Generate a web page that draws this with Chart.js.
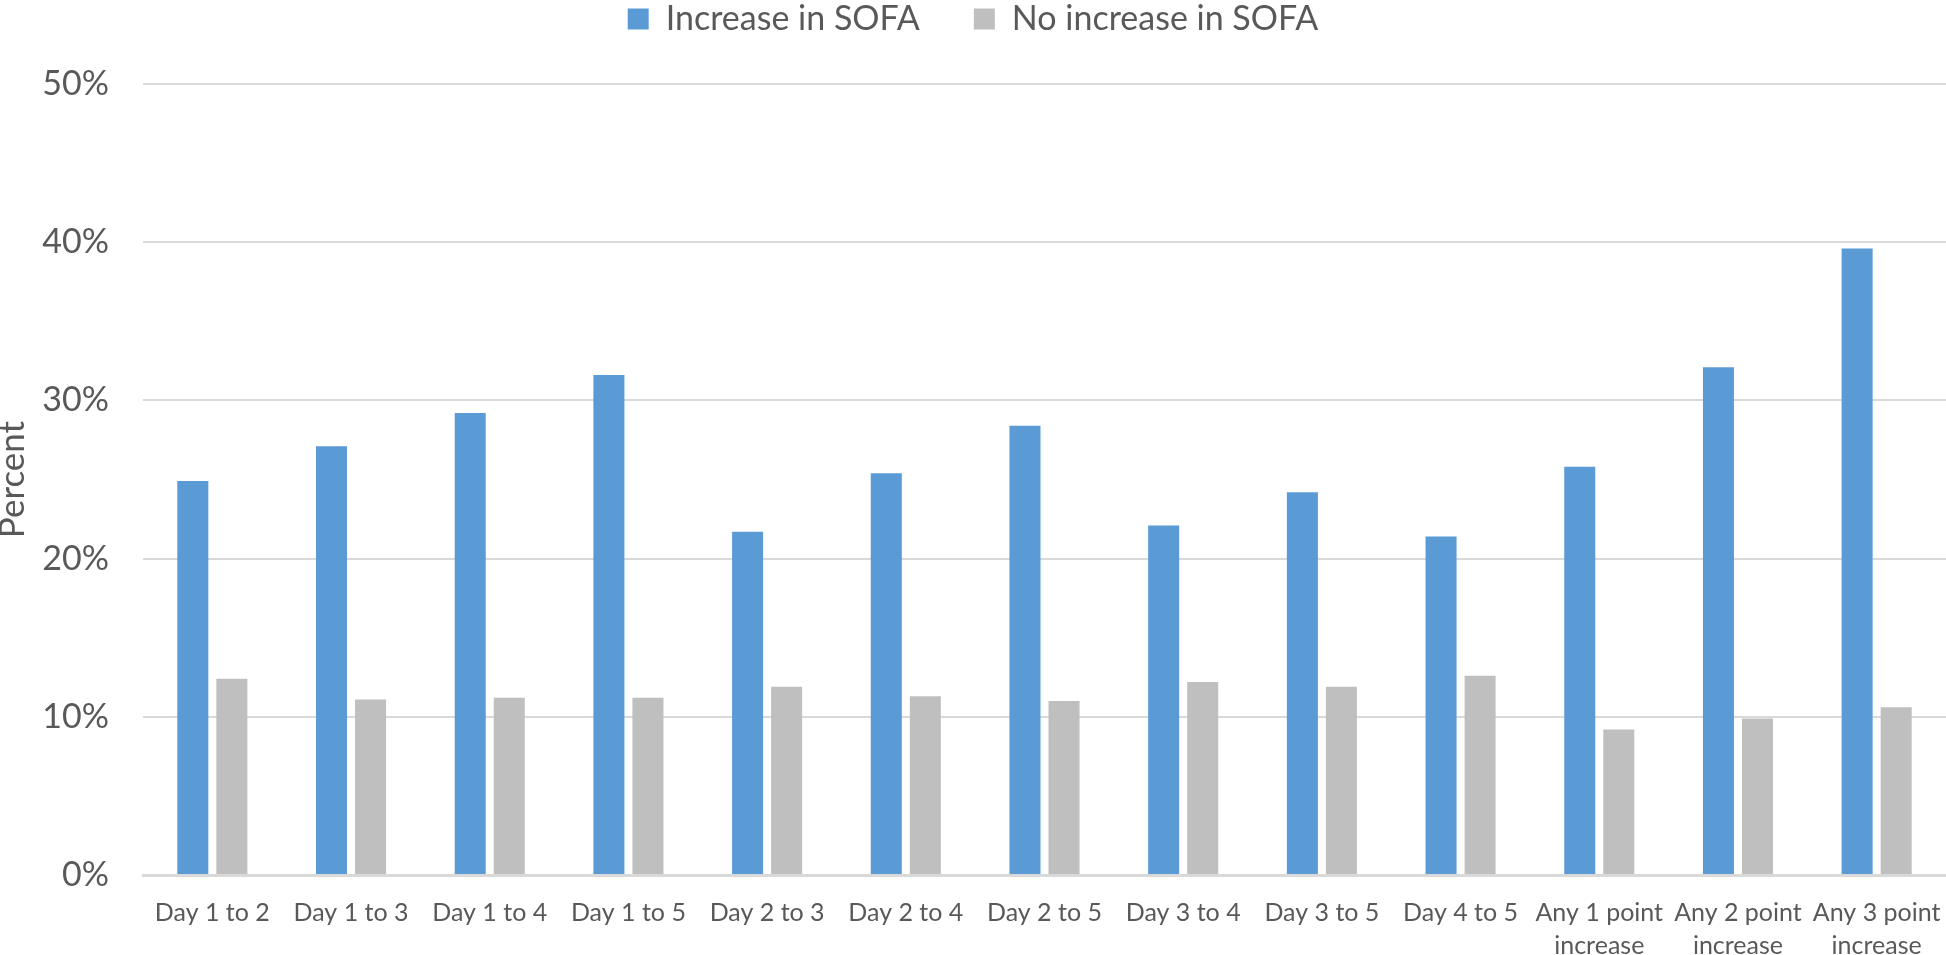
<!DOCTYPE html>
<html>
<head>
<meta charset="utf-8">
<script src="https://cdn.jsdelivr.net/npm/chart.js@4/dist/chart.umd.min.js"></script>
<style>
  html, body { margin: 0; padding: 0; background: #fff; }
  #wrap { width: 1946px; height: 955px; }
</style>
</head>
<body>
<div id="wrap"><canvas id="sofaChart"></canvas></div>
<script>
'use strict';

// chart data
const categories = [
  'Day 1 to 2', 'Day 1 to 3', 'Day 1 to 4', 'Day 1 to 5', 'Day 2 to 3', 'Day 2 to 4',
  'Day 2 to 5', 'Day 3 to 4', 'Day 3 to 5', 'Day 4 to 5',
  ['Any 1 point', 'increase'], ['Any 2 point', 'increase'], ['Any 3 point', 'increase'],
];
const increaseSofa = [24.9, 27.1, 29.2, 31.6, 21.7, 25.4, 28.4, 22.1, 24.2, 21.4, 25.8, 32.1, 39.6];
const noIncreaseSofa = [12.4, 11.1, 11.2, 11.2, 11.9, 11.3, 11.0, 12.2, 11.9, 12.6, 9.2, 9.9, 10.6];
const yTicks = [0, 10, 20, 30, 40, 50];

const FONT = 'Lato, "Open Sans", sans-serif';
const TEXT = '#595959';
const GRID = '#d9d9d9';

// legend sits in a fixed band at the top of the canvas
const legendBand = {
  id: 'legendBand',
  beforeInit(chart) {
    const fit = chart.legend.fit;
    chart.legend.fit = function () {
      fit.call(this);
      this.height = 136;
    };
  },
};

function buildChart() {
  const canvas = document.getElementById('sofaChart');
  return new Chart(canvas.getContext('2d'), {
    type: 'bar',
    data: {
      labels: categories,
      datasets: [
        {
          label: 'Increase in SOFA',
          data: increaseSofa,
          backgroundColor: '#5b9bd5',
          categoryPercentage: 0.563,
          barPercentage: 0.795,
        },
        {
          label: 'No increase in SOFA',
          data: noIncreaseSofa,
          backgroundColor: '#bfbfbf',
          categoryPercentage: 0.563,
          barPercentage: 0.795,
        },
      ],
    },
    options: {
      responsive: true,
      maintainAspectRatio: false,
      animation: false,
      layout: { padding: { top: -52, right: 0, left: 0, bottom: 0 } },
      plugins: {
        tooltip: { enabled: false },
        legend: {
          position: 'top',
          labels: {
            color: TEXT,
            font: { family: FONT, size: 34 },
            boxWidth: 21,
            boxHeight: 21,
            padding: 54,
          },
        },
      },
      scales: {
        x: {
          grid: { display: false, drawTicks: false },
          border: { display: true, color: GRID, width: 3 },
          ticks: {
            color: TEXT,
            font: { family: FONT, size: 25, lineHeight: 1.3 },
            padding: 22,
            autoSkip: false,
            maxRotation: 0,
            minRotation: 0,
          },
          afterFit(scale) {
            scale.height = 80;
            scale.paddingLeft = 0;
            scale.paddingRight = 0;
          },
        },
        y: {
          min: 0,
          max: 50,
          afterBuildTicks(scale) { scale.ticks = yTicks.map((v) => ({ value: v })); },
          grid: { color: GRID, lineWidth: 2, drawTicks: false },
          border: { display: false },
          ticks: {
            color: TEXT,
            font: { family: FONT, size: 34 },
            padding: 34,
            callback: (v) => v + '%',
          },
          title: {
            display: true,
            text: 'Percent',
            color: TEXT,
            font: { family: FONT, size: 35, lineHeight: 0.7 },
            padding: 0,
          },
          afterFit(scale) { scale.width = 143; },
        },
      },
    },
    plugins: [legendBand],
  });
}

document.addEventListener('DOMContentLoaded', () => {
  buildChart();
});
</script>
</body>
</html>
